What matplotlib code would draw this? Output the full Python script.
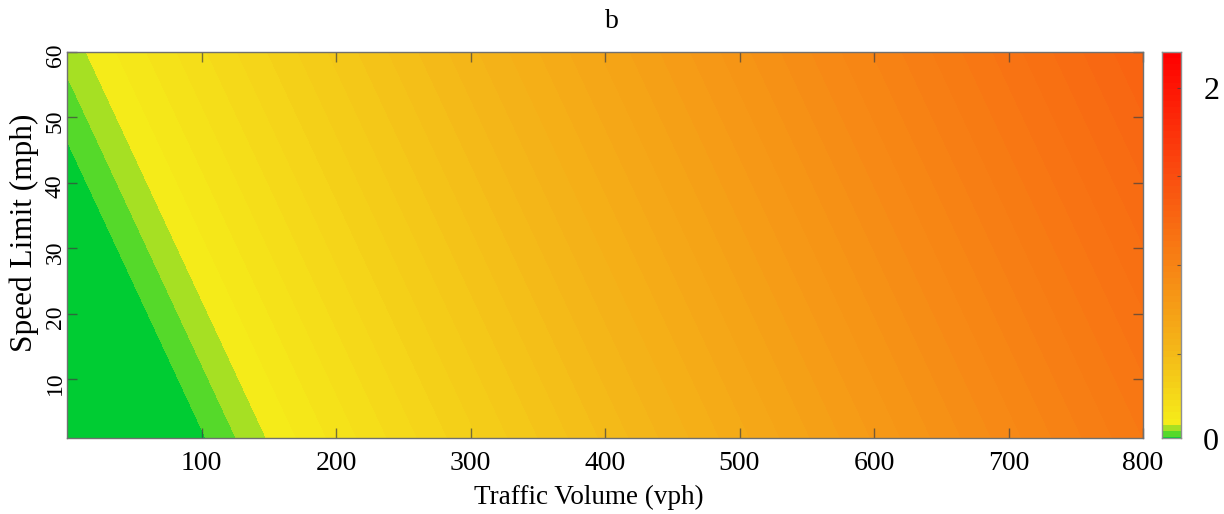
import matplotlib
matplotlib.use('Agg')
import matplotlib.pyplot as plt
import matplotlib.transforms as mtransforms
import numpy as np
from matplotlib.colors import ListedColormap

plt.rcParams['font.family'] = ['Liberation Serif', 'DejaVu Serif']

# values of b at grid nodes (speed limit 1 and 60 mph)
volume = [0, 100, 200, 300, 400, 500, 600, 700, 800]
speed = [1, 60]
b_speed_1 = [-0.124, 0.029, 0.182, 0.335, 0.488, 0.641, 0.794, 0.947, 1.100]
b_speed_60 = [0.081, 0.234, 0.387, 0.540, 0.693, 0.846, 0.999, 1.152, 1.305]

x_ticks = [100, 200, 300, 400, 500, 600, 700, 800]
y_ticks = [10, 20, 30, 40, 50, 60]
cbar_ticks = [0.5, 1, 1.5, 2]
cbar_labels = ['', '', '', '2']
cbar_min = 0.028
z_max = 2.2
n_col = 64

# colour table: three greens, then yellow -> orange -> red
greens = [(0, 204, 51), (85, 217, 42), (166, 224, 35)]
anc_idx = [3, 14.5, 29, 43.6, 63]
anc_rgb = np.array([(245, 235, 25), (244, 184, 24), (247, 130, 20),
                    (250, 76, 15), (255, 0, 0)], dtype=float)
idx = np.arange(3, n_col)
grad = np.stack([np.interp(idx, anc_idx, anc_rgb[:, c]) for c in range(3)], axis=1)
colors = [tuple(np.array(g) / 255) for g in greens] + [tuple(g / 255) for g in grad]

step = z_max / n_col
levels = [-0.2] + [step * i for i in range(1, n_col + 1)]

fig = plt.figure(figsize=(12.24, 5.14), dpi=100)
ax = fig.add_axes([67 / 1224, 1 - 438 / 514, (1143 - 67) / 1224, (438 - 52) / 514])

X, Y = np.meshgrid(volume, speed)
Z = np.array([b_speed_1, b_speed_60])
cs = ax.contourf(X, Y, Z, levels=levels, colors=colors)
cs.set_edgecolor('face')
cs.set_linewidth(0.4)

ax.set_xlim(0, 800)
ax.set_ylim(1, 60)
ax.set_xticks(x_ticks)
ax.set_yticks(y_ticks)
tick_col = (0.25, 0.25, 0.25, 0.7)
ax.tick_params(direction='in', length=7, width=1, top=True, right=True, color=tick_col)
ax.tick_params(axis='x', labelsize=20, pad=9)
ax.tick_params(axis='y', labelsize=17, labelrotation=90, pad=1)
for s in ax.spines.values():
    s.set_color('#707070')
    s.set_linewidth(1)

ax.set_xlabel('Traffic Volume (vph)', fontsize=19.5, va='center')
ax.xaxis.set_label_coords(0.485, -0.153)
ax.set_ylabel('Speed Limit (mph)', fontsize=22.5, va='center')
ax.yaxis.set_label_coords(-0.040, 0.531)

fig.text(612 / 1224, 1 - 22 / 514, 'b', ha='center', va='center', fontsize=20)

# colour bar
cax = fig.add_axes([1162 / 1224, 1 - 438 / 514, 19 / 1224, (438 - 52) / 514])
bounds = [cbar_min] + [step * i for i in range(1, n_col + 1)]
cax.pcolormesh([0, 1], bounds, np.arange(n_col).reshape(-1, 1),
               cmap=ListedColormap(colors), vmin=-0.5, vmax=n_col - 0.5)
cax.set_xlim(0, 1)
cax.set_ylim(cbar_min, z_max)
cax.set_xticks([])
cax.yaxis.tick_right()
cax.set_yticks(cbar_ticks)
cax.set_yticklabels(cbar_labels)
cax.tick_params(axis='y', direction='in', length=3, color=tick_col, labelsize=23, pad=16)
for s in cax.spines.values():
    s.set_color('#909090')
    s.set_linewidth(1)
trans = mtransforms.blended_transform_factory(cax.transAxes, cax.transData)
cax.text(2.16, 0, '0', transform=trans, ha='left', va='center', fontsize=23)

fig.savefig('out.png', dpi=100)
